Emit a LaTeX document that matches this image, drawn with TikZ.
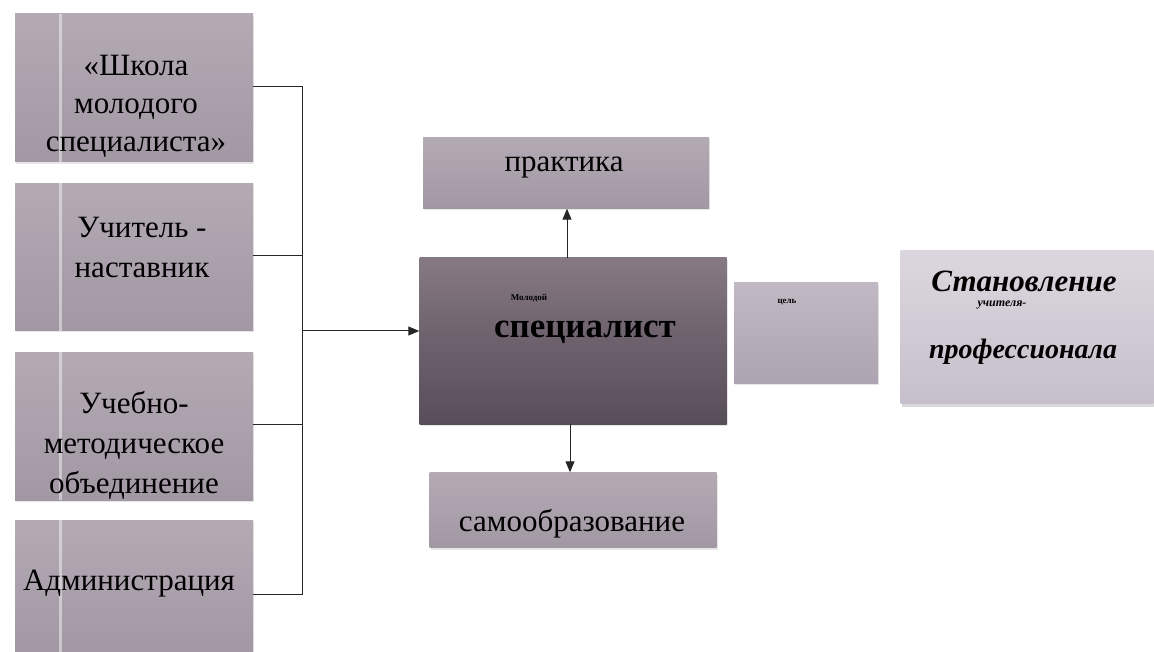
\documentclass[tikz,border=0pt]{standalone}
\usepackage{fontspec}
\setmainfont{Liberation Serif}
\usetikzlibrary{arrows.meta,shadows}
\definecolor{lt}{RGB}{180,170,180}
\definecolor{lb}{RGB}{162,152,164}
\definecolor{ct}{RGB}{134,121,131}
\definecolor{cm}{RGB}{108,97,108}
\definecolor{cb}{RGB}{88,78,90}
\definecolor{gt}{RGB}{192,184,194}
\definecolor{gb}{RGB}{172,164,176}
\definecolor{rt}{RGB}{220,214,222}
\definecolor{rb}{RGB}{198,192,204}
\tikzset{
  lbox/.style={rectangle, inner sep=0pt, top color=lt, bottom color=lb, minimum width=238pt,
     drop shadow={shadow xshift=1pt, shadow yshift=-2pt, opacity=.2}},
  mbox/.style={rectangle, inner sep=0pt, top color=lt, bottom color=lb,
     drop shadow={shadow xshift=1pt, shadow yshift=-2pt, opacity=.2}},
  big/.style={align=center, font=\fontsize{31}{38}\selectfont},
  conn/.style={line width=1pt, black!85},
  arr/.style={line width=1pt, black!85, -{Triangle[width=9pt,length=11pt]}},
  stripe/.style={white, opacity=.45, line width=3pt}
}
\begin{document}
\begin{tikzpicture}[x=1pt,y=-1pt]
\useasboundingbox (0,0) rectangle (1154,652);
% left boxes
\node[lbox, minimum height=148pt] (b1) at (134,88) {};
\node[lbox, minimum height=147pt] (b2) at (134,257) {};
\node[lbox, minimum height=148pt] (b3) at (134,426) {};
\node[lbox, minimum height=132pt] (b4) at (134,586) {};
\foreach \n in {b1,b2,b3,b4}{\draw[stripe] ([xshift=46pt]\n.north west) -- ([xshift=46pt]\n.south west);}
\node[big] (t1) at (136,106) {«Школа\\молодого\\специалиста»};
\node[big, font=\fontsize{31}{40}\selectfont] (t2) at (142,248) {Учитель -\\наставник};
\node[big, font=\fontsize{31}{40}\selectfont] (t3) at (134,445) {Учебно-\\методическое\\объединение};
\node[big] (t4) at (129,584) {Администрация};
% centre
\node[rectangle, minimum width=307pt, minimum height=166pt, top color=ct, bottom color=cb, middle color=cm,
      drop shadow={shadow xshift=1pt, shadow yshift=-2pt, opacity=.2}] (c) at (573,341) {};
\node[font=\bfseries\fontsize{9}{10}\selectfont] (c1) at (529,298) {Молодой};
\node[font=\bfseries\fontsize{35}{38}\selectfont] (c2) at (585,332) {специалист};
\node[mbox, minimum width=286pt, minimum height=71pt] (p) at (566,173) {};
\node[big] (pt) at (564,167) {практика};
\node[mbox, minimum width=287pt, minimum height=75pt] (s) at (573,510) {};
\node[big] (st) at (572,524) {самообразование};
\node[rectangle, minimum width=144pt, minimum height=100pt, top color=gt, bottom color=gb,
      drop shadow={shadow xshift=1pt, shadow yshift=-2pt, opacity=.2}] (g) at (806,333) {};
\node[font=\bfseries\fontsize{9}{10}\selectfont] (gt) at (787,302) {цель};
\node[rectangle, minimum width=253pt, minimum height=153pt, top color=rt, bottom color=rb,
      drop shadow={shadow xshift=1pt, shadow yshift=-3pt, opacity=.3}] (r) at (1027,327) {};
\node[font=\bfseries\itshape\fontsize{31}{34}\selectfont] (r1) at (1024,281) {Становление};
\node[font=\bfseries\itshape\fontsize{12}{14}\selectfont] (r2) at (1002,305) {учителя-};
\node[font=\bfseries\itshape\fontsize{28}{30}\selectfont] (r3) at (1023,352) {профессионала};
% connectors
\coordinate (j) at (302,331);
\draw[conn] (b1.east |- 0,87) -| (j |- 0,87) -- (j |- 0,594) -- (b4.east |- 0,594);
\draw[conn] (b2.east |- 0,256) -- (j |- 0,256);
\draw[conn] (b3.east |- 0,424) -- (j |- 0,424);
\draw[arr] (j) -- (c.west |- j);
\draw[arr] (c.north -| 567,0) -- (p.south -| 567,0);
\draw[arr] (c.south -| 570,0) -- (s.north -| 570,0);
\end{tikzpicture}
\end{document}
